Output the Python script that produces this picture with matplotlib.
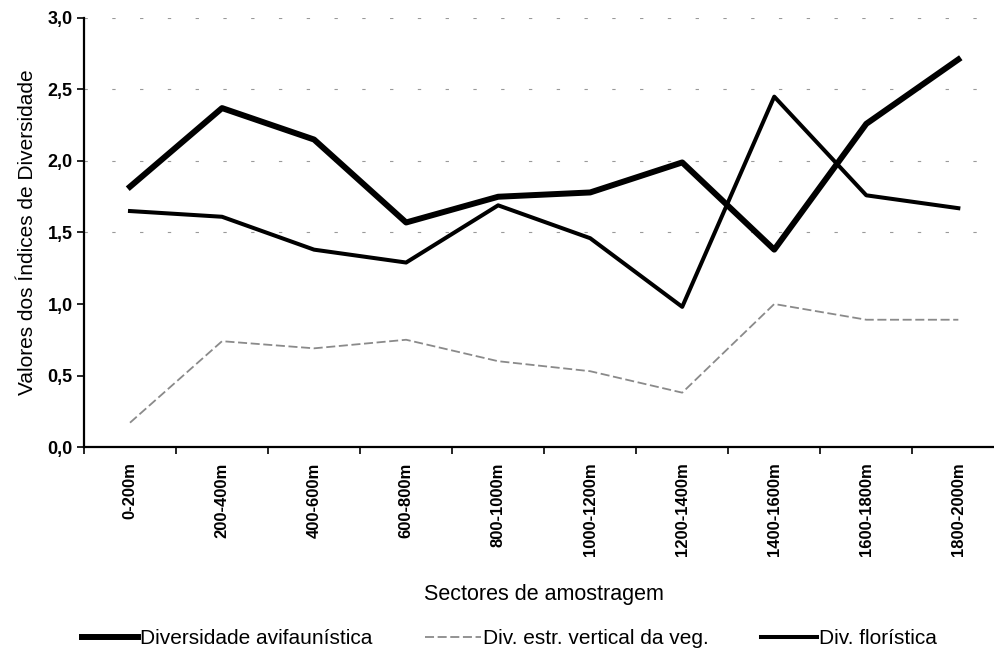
import matplotlib
matplotlib.use("Agg")
import matplotlib.pyplot as plt
from matplotlib.ticker import FuncFormatter

plt.rcParams['font.family'] = ['Liberation Sans', 'DejaVu Sans']

sectores = ["0-200m", "200-400m", "400-600m", "600-800m", "800-1000m",
            "1000-1200m", "1200-1400m", "1400-1600m", "1600-1800m", "1800-2000m"]
div_avifaunistica = [1.82, 2.37, 2.15, 1.57, 1.75, 1.78, 1.99, 1.38, 2.26, 2.71]
div_estr_vertical = [0.17, 0.74, 0.69, 0.75, 0.60, 0.53, 0.38, 1.00, 0.89, 0.89]
div_floristica = [1.65, 1.61, 1.38, 1.29, 1.69, 1.46, 0.98, 2.45, 1.76, 1.67]
y_ticks = [0.0, 0.5, 1.0, 1.5, 2.0, 2.5, 3.0]

fig = plt.figure(figsize=(9.95, 6.54), dpi=100)
ax = fig.add_axes([0.0844, 0.3165, 0.925, 0.656])

x = list(range(len(sectores)))

# faint broken gridlines
for yv in y_ticks[3:]:
    ax.axhline(yv, color="#999999", lw=0.8, linestyle=(0, (3, 22)), zorder=0)

l1, = ax.plot(x, div_avifaunistica, color="black", lw=4.3,
              solid_joinstyle="round", label="Diversidade avifaunística")
l2, = ax.plot(x, div_estr_vertical, color="#8a8a8a", lw=1.3,
              linestyle=(0, (5, 2)), label="Div. estr. vertical da veg.")
l3, = ax.plot(x, div_floristica, color="black", lw=2.9,
              solid_joinstyle="round", label="Div. florística")

ax.set_xlim(-0.5, len(sectores) - 0.5)
ax.set_ylim(0, 3.0)
ax.set_yticks(y_ticks)
ax.yaxis.set_major_formatter(FuncFormatter(lambda v, p: f"{v:.1f}".replace(".", ",")))

ax.set_xticks([i - 0.5 for i in x], minor=False)
ax.set_xticklabels([])
ax.set_xticks(x, minor=True)
ax.set_xticklabels(sectores, minor=True, rotation=90, fontsize=12, fontweight="bold")
ax.tick_params(axis="x", which="minor", length=0, pad=11)
ax.tick_params(axis="x", which="major", length=5, width=1.2, direction="out")
ax.tick_params(axis="y", length=5, width=1.2, direction="out", labelsize=13, pad=3)
for lab in ax.get_yticklabels():
    lab.set_fontweight("bold")

for s in ["top", "right"]:
    ax.spines[s].set_visible(False)
for s in ["left", "bottom"]:
    ax.spines[s].set_linewidth(1.6)

ax.set_ylabel("Valores dos Índices de Diversidade", fontsize=15, labelpad=8)
ax.set_xlabel("Sectores de amostragem", fontsize=15.5, labelpad=20)

fig.legend(handles=[l1, l2, l3], loc="center", bbox_to_anchor=(0.512, 0.023),
           ncol=3, frameon=False, fontsize=15, handlelength=2.7,
           handletextpad=0.1, columnspacing=2.5)

fig.savefig("out.png", dpi=100)
